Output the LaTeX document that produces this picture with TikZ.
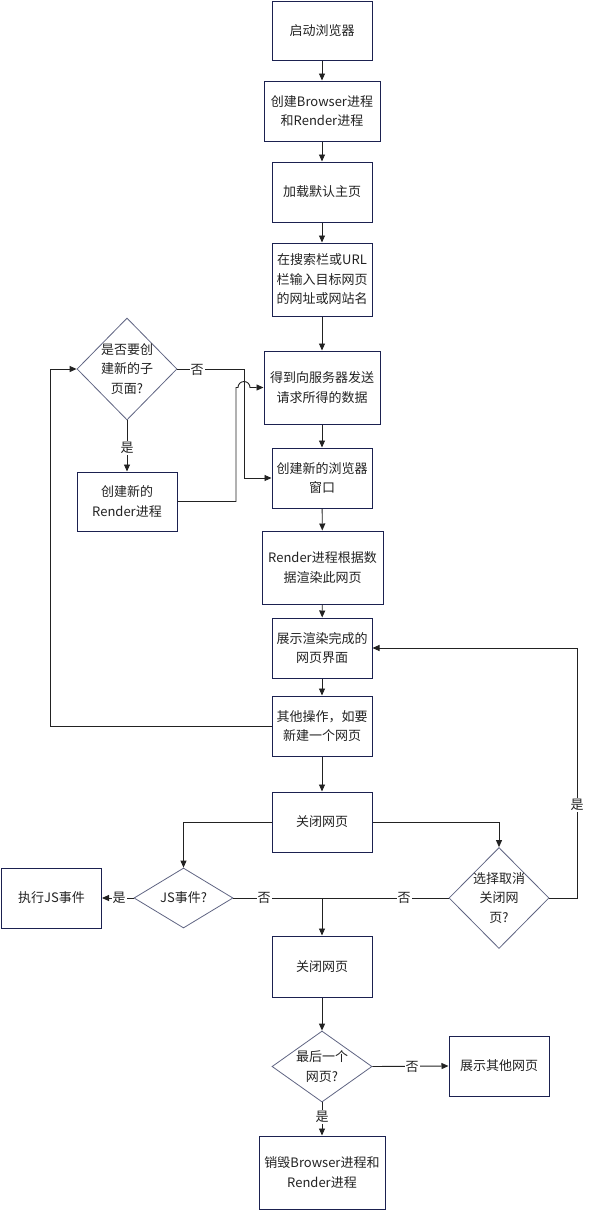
\documentclass[tikz,border=0pt]{standalone}
\usepackage{fontspec}
\setmainfont{Noto Sans CJK SC}
\usetikzlibrary{shapes.geometric,arrows.meta}
\definecolor{boxc}{HTML}{1B2150}
\definecolor{diac}{HTML}{5F6482}
\definecolor{linec}{HTML}{222222}
\definecolor{txt}{HTML}{222222}
\begin{document}
\begin{tikzpicture}[x=1pt,y=-1pt,
  every node/.style={font=\fontsize{13}{19.5}\selectfont, text=txt},
  box/.style={draw=boxc, line width=1pt, rectangle, inner sep=0pt, align=center, minimum width=100pt, minimum height=60pt},
  dia/.style={draw=diac, line width=0.8pt, diamond, inner sep=0pt},
  lab/.style={fill=white, inner sep=1pt},
  arr/.style={draw=linec, line width=0.9pt, -{Triangle[length=7pt,width=6pt]}},
  ln/.style={draw=linec, line width=0.9pt}]
\useasboundingbox (0,0) rectangle (589,1211);

% main column
\node[box, minimum height=59pt] (b1) at (322,30.5) {启动浏览器};
\node[box, minimum width=116pt] (b2) at (322,111) {创建Browser进程\\和Render进程};
\node[box] (b3) at (322,192) {加载默认主页};
\node[box, minimum height=73pt] (b4) at (322,279.5) {在搜索栏或URL\\栏输入目标网页\\的网址或网站名};
\node[box, minimum width=116pt, minimum height=73pt] (b5) at (322,387.5) {得到向服务器发送\\请求所得的数据};
\node[box] (b6) at (322,478) {创建新的浏览器\\窗口};
\node[box, minimum width=121pt, minimum height=73pt] (b7) at (322.5,567.5) {Render进程根据数\\据渲染此网页};
\node[box] (b8) at (322,648) {展示渲染完成的\\网页界面};
\node[box] (b9) at (322,726) {其他操作，如要\\新建一个网页};
\node[box] (b10) at (322,822) {关闭网页};
\node[box] (b11) at (51.5,898) {执行JS事件};
\node[box, minimum height=61pt] (b12) at (322,966.5) {关闭网页};
\node[box] (b13) at (499,1066) {展示其他网页};
\node[box, minimum width=126pt, minimum height=73pt] (b14) at (322,1172.5) {销毁Browser进程和\\Render进程};
\node[box, minimum height=59pt] (b15) at (127,501.5) {创建新的\\Render进程};

% diamonds
\node[dia, minimum width=100pt, minimum height=102pt] (d1) at (127,369) {};
\node[align=center] (d1t) at (d1) {是否要创\\建新的子\\页面?};
\node[dia, minimum width=99pt, minimum height=60pt] (d2) at (183.5,898) {};
\node[align=center] (d2t) at (d2) {JS事件?};
\node[dia, minimum width=100pt, minimum height=101pt] (d3) at (499,898) {};
\node[align=center] (d3t) at (d3) {选择取消\\关闭网\\页?};
\node[dia, minimum width=100pt, minimum height=71pt] (d4) at (322,1066.5) {};
\node[align=center] (d4t) at (d4) {最后一个\\网页?};

% helper coordinates
\coordinate (lx) at (50,726);
\coordinate (nx) at (244,369);
\coordinate (rx) at (236,501.5);
\coordinate (hs) at (238,387.5);
\coordinate (ry) at (577,898);
\coordinate (j) at (322,898);

% straight arrows
\draw[arr] (b1) -- (b2);
\draw[arr] (b2) -- (b3);
\draw[arr] (b3) -- (b4);
\draw[arr] (b4) -- (b5);
\draw[arr] (b5) -- (b6);
\draw[arr] (b6) -- (b7);
\draw[arr] (b7) -- (b8);
\draw[arr] (b8) -- (b9);
\draw[arr] (b9) -- (b10);
\draw[arr] (d1) -- (b15);

% loops
\draw[arr] (b9.west) -- (lx) |- (d1.west);
\draw[arr] (d1.east) -- (nx) |- (b6.west);
\draw[arr] (b15.east) -- (rx) |- (hs) arc[start angle=180, end angle=0, radius=6pt] -- (b5.west);
\draw[arr] (d3.east) -- (ry) |- (b8.east);

% close page branches
\draw[arr] (b10.west) -| (d2.north);
\draw[arr] (b10.east) -| (d3.north);
\draw[arr] (d2.west) -- (b11.east);
\draw[ln] (d2.east) -- (j);
\draw[ln] (d3.west) -- (j);
\draw[arr] (j) -- (b12.north);
\draw[arr] (b12) -- (d4);
\draw[arr] (d4.east) -- (b13.west);
\draw[arr] (d4.south) -- (b14.north);

% labels
\node[lab] (l1) at (197,370) {否};
\node[lab] (l2) at (127,448) {是};
\node[lab] (l3) at (119,898) {是};
\node[lab] (l4) at (264,898) {否};
\node[lab] (l5) at (404,898) {否};
\node[lab] (l6) at (577,805) {是};
\node[lab] (l7) at (412,1066.5) {否};
\node[lab] (l8) at (322,1117) {是};
\end{tikzpicture}
\end{document}
